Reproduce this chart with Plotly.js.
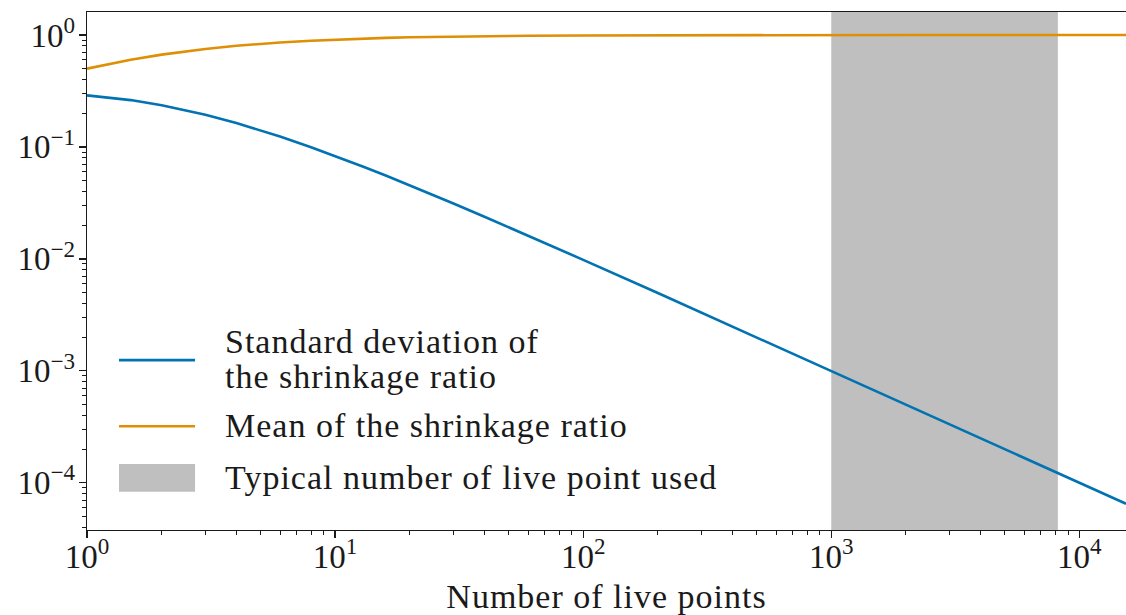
<!DOCTYPE html>
<html>
<head>
<meta charset="utf-8">
<script src="https://cdn.plot.ly/plotly-3.0.1.min.js"></script>
<style>
  html, body { margin: 0; padding: 0; background: #ffffff; overflow: hidden; }
  #chart { width: 1126px; height: 615px; }
  /* slightly wider setting for the running text */
  #chart .annotation-text, #chart .g-xtitle text { letter-spacing: 1px; }
</style>
</head>
<body>
<div id="chart"></div>
<script>
// Number of live points
const liveN = [1, 1.25, 1.5, 2, 2.5, 3, 4, 5, 6, 8, 10, 13, 16, 20, 30, 40, 60, 100, 200, 500, 1000, 2000, 5000, 10000, 15420];
// Standard deviation of the shrinkage ratio
const stdRatio = [0.2887, 0.2756, 0.2619, 0.2357, 0.2130, 0.1936, 0.1633, 0.1409, 0.1237, 0.09938, 0.08299, 0.06650, 0.05546, 0.04540, 0.03123, 0.02380, 0.016127, 0.009803, 0.004950, 0.0019921, 0.000998, 0.0004995, 0.0001999, 0.00009999, 0.00006485];
// Mean of the shrinkage ratio
const meanRatio = [0.5, 0.5556, 0.6, 0.6667, 0.7143, 0.75, 0.8, 0.8333, 0.8571, 0.8889, 0.9091, 0.9286, 0.9412, 0.9524, 0.9677, 0.9756, 0.9836, 0.9901, 0.9950, 0.9980, 0.9990, 0.9995, 0.9998, 0.9999, 0.99994];
// Typical number of live points used (range)
const typicalRange = [1000, 8192];

// Tick labels
const xTickVals = [1, 10, 100, 1000, 10000];
const xTickText = ['10<sup>0</sup>', '10<sup>1</sup>', '10<sup>2</sup>', '10<sup>3</sup>', '10<sup>4</sup>'];
const yTickVals = [1e-4, 1e-3, 1e-2, 1e-1, 1];
const yTickText = ['10<sup>\u22124</sup>', '10<sup>\u22123</sup>', '10<sup>\u22122</sup>', '10<sup>\u22121</sup>', '10<sup>0</sup>'];

const legendLines = ['Standard deviation of', 'the shrinkage ratio', 'Mean of the shrinkage ratio', 'Typical number of live point used'];

const BLUE = '#0173B2';
const ORANGE = '#DE8F05';
const GREY = '#BFBFBF';
const INK = '#1a1a1a';
const FONT = 'Liberation Serif, Times New Roman, serif';
const TXT = 34;

// minor ticks at 2..9 of each decade
function minorTicks(lo, hi) {
  const out = [];
  for (let e = lo; e <= hi; e++) {
    for (let m = 2; m <= 9; m++) out.push(m * Math.pow(10, e));
  }
  return out;
}

const traces = [
  {
    x: liveN, y: stdRatio, type: 'scatter', mode: 'lines',
    line: { color: BLUE, width: 2.6 }, name: 'std', showlegend: false, hoverinfo: 'skip'
  },
  {
    x: liveN, y: meanRatio, type: 'scatter', mode: 'lines',
    line: { color: ORANGE, width: 2.6 }, name: 'mean', showlegend: false, hoverinfo: 'skip'
  }
];

// legend geometry (paper coordinates)
const legX0 = 0.0308, legX1 = 0.104, legTextX = 0.1309;
function legendText(text, y) {
  return { xref: 'paper', yref: 'paper', x: legTextX, y: y, xanchor: 'left', yanchor: 'middle', align: 'left',
           showarrow: false, text: text, font: { family: FONT, size: TXT, color: INK } };
}

const layout = {
  width: 1126,
  height: 615,
  margin: { l: 87, r: 0, t: 12, b: 85, pad: 0 },
  paper_bgcolor: '#ffffff',
  plot_bgcolor: '#ffffff',
  font: { family: FONT, color: INK, size: 33 },
  showlegend: false,
  xaxis: {
    type: 'log',
    range: [0, 4.188],
    showgrid: false, zeroline: false,
    showline: true, linecolor: INK, linewidth: 1.3, mirror: true,
    ticks: 'outside', ticklen: 7, tickwidth: 1.3, tickcolor: INK,
    tickmode: 'array', tickvals: xTickVals, ticktext: xTickText,
    tickfont: { family: FONT, size: 33, color: INK },
    ticklabelstandoff: -10,
    minor: { tickmode: 'array', tickvals: minorTicks(0, 4), ticks: 'outside', ticklen: 4, tickwidth: 1, tickcolor: INK, showgrid: false },
    title: { text: 'Number of live points', font: { family: FONT, size: TXT, color: INK }, standoff: 14 }
  },
  yaxis: {
    type: 'log',
    range: [-4.422, 0.205],
    showgrid: false, zeroline: false,
    showline: true, linecolor: INK, linewidth: 1.3, mirror: false,
    ticks: 'outside', ticklen: 7, tickwidth: 1.3, tickcolor: INK,
    tickmode: 'array', tickvals: yTickVals, ticktext: yTickText,
    tickfont: { family: FONT, size: 33, color: INK },
    ticklabelstandoff: -3,
    minor: { tickmode: 'array', tickvals: minorTicks(-5, 0), ticks: 'outside', ticklen: 4, tickwidth: 1, tickcolor: INK, showgrid: false }
  },
  shapes: [
    {
      type: 'rect', layer: 'below', xref: 'x', yref: 'paper',
      x0: typicalRange[0], x1: typicalRange[1], y0: 0, y1: 1,
      fillcolor: GREY, line: { width: 0 }
    },
    // legend keys
    { type: 'line', xref: 'paper', yref: 'paper', x0: legX0, x1: legX1, y0: 0.328, y1: 0.328, line: { color: BLUE, width: 2.6 } },
    { type: 'line', xref: 'paper', yref: 'paper', x0: legX0, x1: legX1, y0: 0.2002, y1: 0.2002, line: { color: ORANGE, width: 2.6 } },
    { type: 'rect', xref: 'paper', yref: 'paper', x0: legX0, x1: legX1, y0: 0.0739, y1: 0.1274, fillcolor: GREY, line: { width: 0 } }
  ],
  annotations: [
    legendText(legendLines[0], 0.364),
    legendText(legendLines[1], 0.296),
    legendText(legendLines[2], 0.2008),
    legendText(legendLines[3], 0.1023)
  ]
};

Plotly.newPlot('chart', traces, layout, { displayModeBar: false, staticPlot: true });
</script>
</body>
</html>
